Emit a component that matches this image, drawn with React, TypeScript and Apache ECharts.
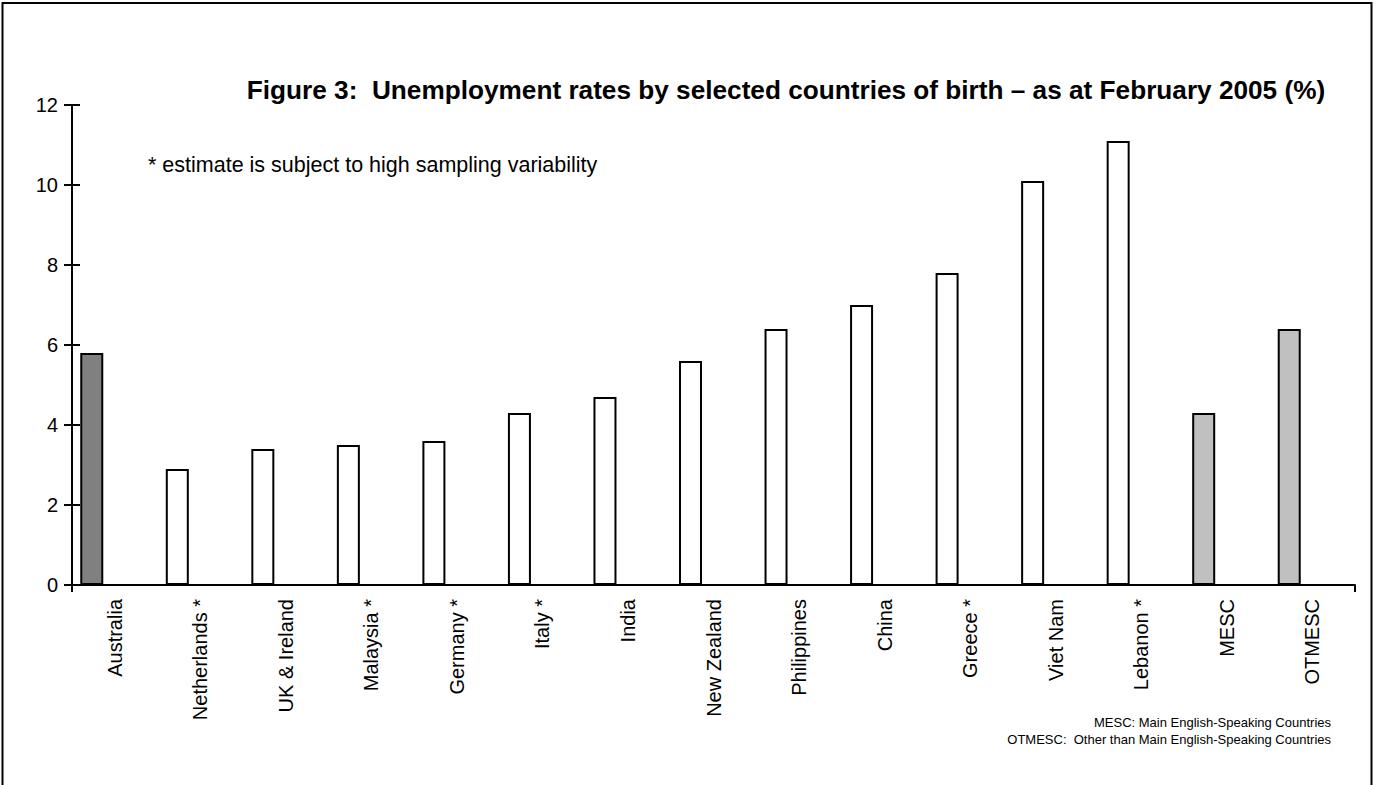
import React, { useEffect, useRef } from "react";
import * as echarts from "echarts";

const categories = [
  "Australia",
  "Netherlands *",
  "UK & Ireland",
  "Malaysia *",
  "Germany *",
  "Italy *",
  "India",
  "New Zealand",
  "Philippines",
  "China",
  "Greece *",
  "Viet Nam",
  "Lebanon *",
  "MESC",
  "OTMESC",
];
const rates = [5.8, 2.9, 3.4, 3.5, 3.6, 4.3, 4.7, 5.6, 6.4, 7.0, 7.8, 10.1, 11.1, 4.3, 6.4];
const groups = ["aus", "c", "c", "c", "c", "c", "c", "c", "c", "c", "c", "c", "c", "agg", "agg"];
const groupColours: Record<string, string> = { aus: "#808080", c: "#ffffff", agg: "#c0c0c0" };

const titleText = "Figure 3:  Unemployment rates by selected countries of birth \u2013 as at February 2005 (%)";
const noteText = "* estimate is subject to high sampling variability";
const footLines = [
  "MESC: Main English-Speaking Countries",
  "OTMESC:  Other than Main English-Speaking Countries",
];
const yMin = 0;
const yMax = 12;
const yStep = 2;

const FONT = "'Liberation Sans', Arial, sans-serif";

export default function App() {
  const ref = useRef<HTMLDivElement>(null);
  useEffect(() => {
    if (!ref.current) return;
    const chart = echarts.init(ref.current, undefined, { renderer: "svg" });
    const empty = categories.map(() => "-");
    const yBase = {
      type: "value" as const,
      min: yMin,
      max: yMax,
      interval: yStep,
      splitLine: { show: false },
    };
    chart.setOption({
      animation: false,
      backgroundColor: "#ffffff",
      textStyle: { fontFamily: FONT },
      grid: { left: 72, right: 25, top: 105, bottom: 200, containLabel: false },
      xAxis: {
        type: "category",
        data: categories,
        boundaryGap: true,
        axisLine: { show: true, lineStyle: { color: "#000", width: 2 } },
        axisTick: {
          show: true,
          length: 7,
          interval: (i: number) => i === 0,
          lineStyle: { color: "#000", width: 2 },
        },
        axisLabel: {
          interval: 0,
          rotate: 90,
          margin: 14,
          color: "#000",
          fontSize: 20,
          fontFamily: FONT,
        },
      },
      yAxis: [
        {
          ...yBase,
          axisLine: { show: true, lineStyle: { color: "#000", width: 2 } },
          axisTick: { show: true, inside: false, length: 8, lineStyle: { color: "#000", width: 2 } },
          axisLabel: { color: "#000", fontSize: 20, margin: 14, fontFamily: FONT },
        },
        {
          ...yBase,
          position: "left",
          axisLine: { show: false },
          axisTick: { show: true, inside: true, length: 8, lineStyle: { color: "#000", width: 2 } },
          axisLabel: { show: false },
        },
      ],
      series: [
        {
          type: "bar",
          barWidth: 23,
          barGap: "0%",
          data: rates.map((v, i) => ({
            value: v,
            itemStyle: { color: groupColours[groups[i]], borderColor: "#000", borderWidth: 2 },
          })),
        },
        { type: "bar", barWidth: 23, barGap: "0%", data: empty },
        { type: "bar", barWidth: 23, barGap: "0%", data: empty },
      ],
      graphic: [
        {
          type: "rect",
          shape: { x: 2.5, y: 3, width: 1369, height: 820 },
          style: { fill: "none", stroke: "#000", lineWidth: 2 },
          silent: true,
        },
        {
          type: "text",
          x: 786,
          y: 90,
          style: {
            text: titleText,
            fill: "#000",
            font: `bold 26.2px ${FONT}`,
            textAlign: "center",
            textVerticalAlign: "middle",
          },
        },
        {
          type: "text",
          x: 148,
          y: 165,
          style: {
            text: noteText,
            fill: "#000",
            font: `21.5px ${FONT}`,
            textAlign: "left",
            textVerticalAlign: "middle",
          },
        },
        ...footLines.map((t, i) => ({
          type: "text",
          x: 1331,
          y: 722 + i * 17,
          style: {
            text: t,
            fill: "#000",
            font: `13px ${FONT}`,
            textAlign: "right",
            textVerticalAlign: "middle",
          },
        })),
      ],
    });
    return () => chart.dispose();
  }, []);
  return (
    <div
      ref={ref}
      style={{ position: "fixed", left: 0, top: 0, width: 1380, height: 785, background: "#fff" }}
    />
  );
}
